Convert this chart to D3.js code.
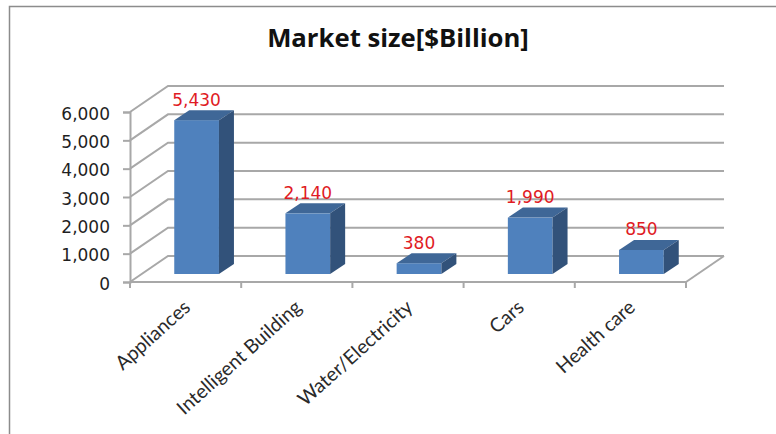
<!DOCTYPE html>
<html>
<head>
<meta charset="utf-8">
<script src="https://d3js.org/d3.v7.min.js"></script>
<style>
html,body{margin:0;padding:0;background:#fff}
svg{display:block}
</style>
</head>
<body>
<svg id="chart" width="776" height="434"></svg>
<script>
const categories = ["Appliances", "Intelligent Building", "Water/Electricity", "Cars", "Health care"];
const marketSize = [5430, 2140, 380, 1990, 850];
const valueTicks = [0, 1000, 2000, 3000, 4000, 5000, 6000];
const chartTitle = "Market size[$Billion]";

const svg = d3.select("#chart");
const fmt = d3.format(",");

// Projection of the oblique 3D box: front plane, back wall and bar depth
const x = d3.scaleBand().domain(categories).range([130, 686]);
const y = d3.scaleLinear().domain([0, 6000]).range([282, 112]);
const wall = {dx: 38, dy: -26};
const barInset = {dx: 11, dy: -8};
const barDepth = {dx: 15, dy: -10};
const barShare = 0.402;

// Chart frame, open on the right and at the bottom
svg.append("path")
  .attr("d", "M9.5,434V6.5H776")
  .attr("fill", "none").attr("stroke", "#8c8c8c").attr("stroke-width", 1.5);

svg.append("text")
  .attr("x", 398).attr("y", 47)
  .attr("text-anchor", "middle")
  .attr("font-family", "'Open Sans'")
  .attr("font-weight", 700)
  .attr("font-size", 25.7)
  .attr("fill", "#111")
  .text(chartTitle);

const gridColor = "#a8a8a8";
const x0 = x.range()[0], x1 = x.range()[1];

// Gridlines run along the side wall and then across the back wall
svg.append("g").selectAll("path").data(valueTicks).join("path")
  .attr("d", d => {
    const py = y(d);
    return `M${x0},${py}L${x0 + wall.dx},${py + wall.dy}H${x1 + wall.dx}`;
  })
  .attr("fill", "none").attr("stroke", gridColor).attr("stroke-width", 2);

// Floor edge on the right
svg.append("line")
  .attr("x1", x1).attr("y1", y(0))
  .attr("x2", x1 + wall.dx).attr("y2", y(0) + wall.dy)
  .attr("stroke", gridColor).attr("stroke-width", 2);

// Value axis with outward ticks
const yAxis = d3.axisLeft(y).tickValues(valueTicks).tickFormat(fmt).tickSize(7).tickPadding(13);
const yG = svg.append("g").attr("transform", `translate(${x0},0)`).call(yAxis);
yG.selectAll("path,line").attr("stroke", gridColor).attr("stroke-width", 2);
yG.selectAll("text")
  .attr("dy", "0.42em")
  .attr("font-family", "'DejaVu Sans'").attr("font-size", 17).attr("fill", "#1f1f1f");

// Category axis: ticks fall on the band edges, labels are rotated separately
svg.append("line")
  .attr("x1", x0).attr("x2", x1).attr("y1", y(0)).attr("y2", y(0))
  .attr("stroke", gridColor).attr("stroke-width", 2);
svg.append("g").selectAll("line")
  .data(categories.map(c => x(c)).concat([x1]))
  .join("line")
  .attr("x1", d => d).attr("x2", d => d)
  .attr("y1", y(0)).attr("y2", y(0) + 6)
  .attr("stroke", gridColor).attr("stroke-width", 2);

svg.append("g").selectAll("text").data(categories).join("text")
  .attr("transform", d => `translate(${x(d) + x.bandwidth() / 2 + 6},${y(0) + 27}) rotate(-42)`)
  .attr("text-anchor", "end")
  .attr("font-family", "'Lato'")
  .attr("font-size", 19.5)
  .attr("fill", "#2a2a2a")
  .text(d => d);

// Bars: front face, top and side
const rows = categories.map((c, i) => ({c, v: marketSize[i]}));
const bw = x.bandwidth() * barShare;
const barX = d => x(d.c) + (x.bandwidth() - bw) / 2 + barInset.dx;
const base = y(0) + barInset.dy;
const topY = d => y(d.v) + barInset.dy;

const bars = svg.append("g").selectAll("g").data(rows).join("g");
bars.append("rect")
  .attr("x", barX).attr("y", topY)
  .attr("width", bw).attr("height", d => base - topY(d))
  .attr("fill", "#4f81bd");
bars.append("path")
  .attr("d", d => {
    const l = barX(d), r = l + bw, t = topY(d);
    return `M${l},${t}L${l + barDepth.dx},${t + barDepth.dy}H${r + barDepth.dx}L${r},${t}Z`;
  })
  .attr("fill", "#3f6797");
bars.append("path")
  .attr("d", d => {
    const r = barX(d) + bw, t = topY(d);
    return `M${r},${t}L${r + barDepth.dx},${t + barDepth.dy}V${base + barDepth.dy}L${r},${base}Z`;
  })
  .attr("fill", "#32527a");

// Value labels above each bar
svg.append("g").selectAll("text").data(rows).join("text")
  .attr("x", d => barX(d) + bw / 2)
  .attr("y", d => topY(d) - 14.5)
  .attr("text-anchor", "middle")
  .attr("font-family", "'DejaVu Sans'")
  .attr("font-size", 17)
  .attr("fill", "#e01b24")
  .text(d => fmt(d.v));
</script>
</body>
</html>
